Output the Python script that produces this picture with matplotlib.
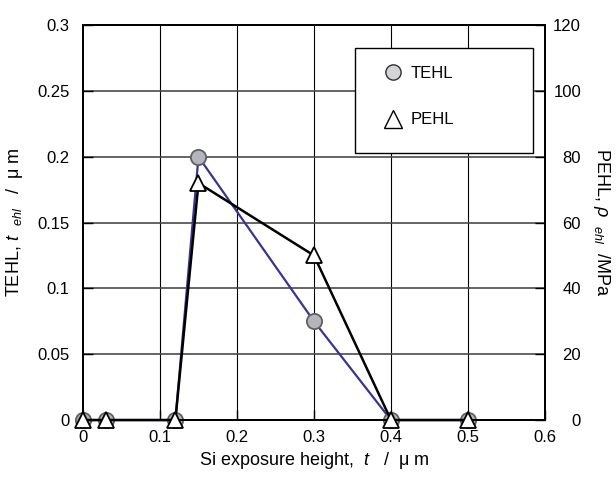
import matplotlib
matplotlib.use("Agg")
import matplotlib.pyplot as plt
from matplotlib.lines import Line2D
from matplotlib.patches import Rectangle

plt.rcParams['font.family'] = ['Liberation Sans', 'DejaVu Sans']
plt.rcParams['mathtext.fontset'] = 'custom'
plt.rcParams['mathtext.rm'] = 'Liberation Sans'
plt.rcParams['mathtext.it'] = 'Liberation Sans:italic'

x_height = [0.0, 0.03, 0.12, 0.15, 0.30, 0.40, 0.50]
tehl = [0.0, 0.0, 0.0, 0.20, 0.075, 0.0, 0.0]
pehl = [0.0, 0.0, 0.0, 72.0, 50.0, 0.0, 0.0]

xticks = [0, 0.1, 0.2, 0.3, 0.4, 0.5, 0.6]
xtick_labels = ['0', '0.1', '0.2', '0.3', '0.4', '0.5', '0.6']
yticks_l = [0, 0.05, 0.1, 0.15, 0.2, 0.25, 0.3]
ytick_labels_l = ['0', '0.05', '0.1', '0.15', '0.2', '0.25', '0.3']
yticks_r = [0, 20, 40, 60, 80, 100, 120]

fig = plt.figure(figsize=(6.16, 4.93), dpi=100)
ax = fig.add_axes([0.1347, 0.148, 0.75, 0.801])
ax2 = ax.twinx()

ax.set_xlim(0, 0.6)
ax.set_ylim(0, 0.3)
ax2.set_ylim(0, 120)

# grid
for xv in xticks[1:-1]:
    ax.axvline(xv, color='black', lw=0.8, zorder=0)
for yv in yticks_l[1:-1]:
    ax.axhline(yv, color='#4a4a4a', lw=1.2, zorder=0)

ax.plot(x_height, tehl, color='#3a3490', lw=1.6, marker='o', ms=11,
        mfc='#b4b4bc', mec='#606060', mew=1.3, clip_on=False, zorder=3)
ax2.plot(x_height, pehl, color='black', lw=1.8, marker='^', ms=12,
         mfc='white', mec='black', mew=1.3, clip_on=False, zorder=3)

ax.set_xticks(xticks)
ax.set_xticklabels(xtick_labels)
ax.set_yticks(yticks_l)
ax.set_yticklabels(ytick_labels_l)
ax2.set_yticks(yticks_r)

for a in (ax, ax2):
    a.tick_params(direction='in', length=7, width=1, labelsize=12, colors='black')
    for s in a.spines.values():
        s.set_linewidth(1.4)
ax.tick_params(axis='x', pad=7.5)
ax.tick_params(axis='y', pad=9.5)
ax2.tick_params(axis='y', pad=26)
for lbl in ax2.get_yticklabels():
    lbl.set_horizontalalignment('right')

ax.set_xlabel(r'Si exposure height,  $\mathit{t}$   /  μ m', fontsize=13, labelpad=3)
ax.set_ylabel(r'TEHL, $\mathit{t}$  $_{\mathit{ehl}}$   /  μ m', fontsize=13, labelpad=9)
ax2.set_ylabel(r'PEHL, $\rho$  $_{ehl}$  /MPa', fontsize=13, rotation=270, labelpad=22)

# legend box
rect = Rectangle((0.589, 0.676), 0.385, 0.266, transform=ax2.transAxes,
                 facecolor='white', edgecolor='black', lw=1.0, zorder=4)
ax2.add_patch(rect)
handles = [Line2D([], [], ls='none', marker='o', ms=11, mfc='#d4d4d8', mec='#303030', mew=1.0),
           Line2D([], [], ls='none', marker='^', ms=13, mfc='white', mec='black', mew=1.0)]
leg = ax2.legend(handles, ['TEHL', 'PEHL'], loc='upper left', bbox_to_anchor=(0.62, 0.935),
                 frameon=False, fontsize=12, handlelength=1.0, labelspacing=1.9,
                 handletextpad=0.6)
leg.set_zorder(5)

fig.savefig('out.png', dpi=100)
